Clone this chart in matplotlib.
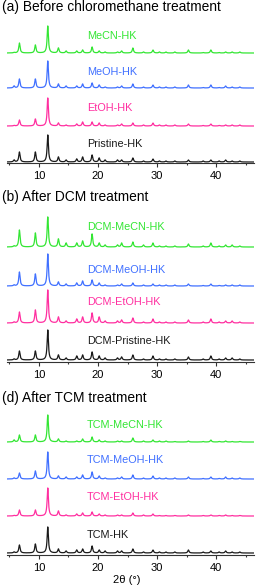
import numpy as np
import matplotlib
matplotlib.use('Agg')
import matplotlib.pyplot as plt
from matplotlib.ticker import MultipleLocator

plt.rcParams['font.family'] = ['Liberation Sans', 'DejaVu Sans']

# peak positions (2theta, deg) shared by all patterns
POS = [5.8, 6.7, 9.4, 11.5, 13.3, 14.6, 16.4, 17.4, 19.0, 20.2, 21.2, 23.3, 24.0,
       25.9, 27.7, 29.3, 30.4, 31.5, 33.0, 35.3, 37.8, 39.1, 40.5, 41.6, 42.7, 44.0]

# peak heights (pixel units), one list per pattern
a_green = [0.5, 10, 8, 27, 5, 2, 2, 3, 6, 2, 1, 1, 2, 5, 1, 3, 1, 1, 1, 3, 0.5, 3, 0.5, 1, 1, 1]
a_blue = [2, 9, 9, 27, 4, 2, 2, 4, 5, 3, 1, 1, 2, 4, 1, 3, 1, 1, 1, 3, 0.5, 3, 0.5, 2, 1, 1]
a_mag = [0.5, 6, 7, 28, 3, 1, 2, 4, 4, 3, 1, 1, 2, 3, 1, 3, 1, 1, 1, 2, 0.5, 2, 0.5, 1, 1, 1]
a_black = [2, 10, 10, 27, 5, 2, 3, 5, 7, 4, 2, 2, 2, 4, 1, 3, 1, 1, 1, 2, 1, 2, 1, 2, 1, 1]

b_green = [1, 17, 14, 30, 8, 4, 4, 6, 13, 4, 2, 2, 4, 5, 2, 4, 1, 1, 1, 3, 1, 4, 1, 2, 2, 1]
b_blue = [1, 14, 12, 32, 4, 2, 3, 5, 6, 3, 1, 1, 2, 3, 1, 2, 1, 1, 1, 2, 0.5, 2, 0.5, 1, 1, 1]
b_mag = [1, 11, 13, 33, 6, 2, 4, 6, 10, 6, 2, 2, 3, 5, 1, 4, 1, 1, 1, 3, 1, 4, 1, 2, 2, 1]
b_black = [1, 9, 9, 30, 5, 2, 4, 5, 8, 4, 2, 2, 3, 5, 1, 4, 1, 1, 1, 3, 1, 4, 1, 2, 2, 1]

d_green = [2, 7, 7, 27, 3, 1, 1, 3, 5, 2, 1, 1, 1, 4, 1, 2, 1, 1, 0.5, 1, 0.5, 2, 0.5, 1, 0.5, 0.5]
d_blue = [1, 6, 8, 27, 3, 2, 2, 4, 7, 3, 1, 1, 2, 4, 1, 3, 1, 1, 1, 2, 0.5, 2, 0.5, 2, 1, 1]
d_mag = [0.5, 6, 6, 28, 5, 1, 2, 3, 4, 2, 1, 1, 1, 3, 1, 2, 0.5, 0.5, 0.5, 1, 0.5, 1, 0.5, 1, 0.5, 0.5]
d_black = [1, 8, 9, 26, 4, 2, 3, 4, 7, 3, 2, 2, 2, 4, 1, 3, 1, 1, 1, 3, 1, 2, 1, 2, 1, 1]

TITLES = ['(a) Before chloromethane treatment', '(b) After DCM treatment', '(d) After TCM treatment']
NAMES = [['MeCN-HK', 'MeOH-HK', 'EtOH-HK', 'Pristine-HK'],
         ['DCM-MeCN-HK', 'DCM-MeOH-HK', 'DCM-EtOH-HK', 'DCM-Pristine-HK'],
         ['TCM-MeCN-HK', 'TCM-MeOH-HK', 'TCM-EtOH-HK', 'TCM-HK']]
PATTERNS = [[a_green, a_blue, a_mag, a_black],
            [b_green, b_blue, b_mag, b_black],
            [d_green, d_blue, d_mag, d_black]]
COLORS = ['#33e633', '#4070ff', '#ff2fa0', '#1a1a1a']

W, H = 256, 586
# panel layout in pixels: axis bottom, axis top, trace offsets, label heights
PANELS = [
    dict(bottom=163, top=18, title_y=7, offs=[110, 75, 37, 1], lab=[127, 91, 55, 19]),
    dict(bottom=362, top=208, title_y=197, offs=[115, 76, 39, 2], lab=[135, 92, 60, 21]),
    dict(bottom=555, top=405, title_y=398, offs=[113, 76, 39, 2], lab=[130, 95, 58, 20]),
]
XL, XR = 7, 254
XMIN, XMAX = 4.6, 46.4

x = np.linspace(XMIN, XMAX, 3000)


def pattern(heights, hw=0.13):
    y = np.zeros_like(x)
    for p, h in zip(POS, heights):
        y += h * hw**2 / ((x - p)**2 + hw**2)
    return y


fig = plt.figure(figsize=(W / 100, H / 100), dpi=100)

for k, pan in enumerate(PANELS):
    hgt = pan['bottom'] - pan['top']
    ax = fig.add_axes([XL / W, 1 - pan['bottom'] / H, (XR - XL) / W, hgt / H])
    for j in range(4):
        ax.plot(x, pattern(PATTERNS[k][j]) + pan['offs'][j], color=COLORS[j], lw=0.9)
        ax.text(18.1, pan['lab'][j], NAMES[k][j], color=COLORS[j], fontsize=7.8,
                ha='left', va='center')
    ax.set_xlim(XMIN, XMAX)
    ax.set_ylim(0, hgt)
    for s in ['top', 'left', 'right']:
        ax.spines[s].set_visible(False)
    ax.spines['bottom'].set_linewidth(0.8)
    ax.spines['bottom'].set_color('#333333')
    ax.set_yticks([])
    ax.xaxis.set_major_locator(MultipleLocator(10))
    ax.xaxis.set_minor_locator(MultipleLocator(5))
    ax.tick_params(axis='x', which='major', length=3, width=0.8, direction='out',
                   labelsize=8, pad=2.5, color='#333333')
    ax.tick_params(axis='x', which='minor', length=1.5, width=0.8, direction='out',
                   color='#333333')
    ax.patch.set_alpha(0)
    fig.text(2 / W, 1 - pan['title_y'] / H, TITLES[k], fontsize=9.9,
             ha='left', va='center')

fig.text(127 / W, 1 - 580 / H, '2θ (°)', fontsize=8, ha='center', va='center')

fig.savefig('out.png', dpi=100)
